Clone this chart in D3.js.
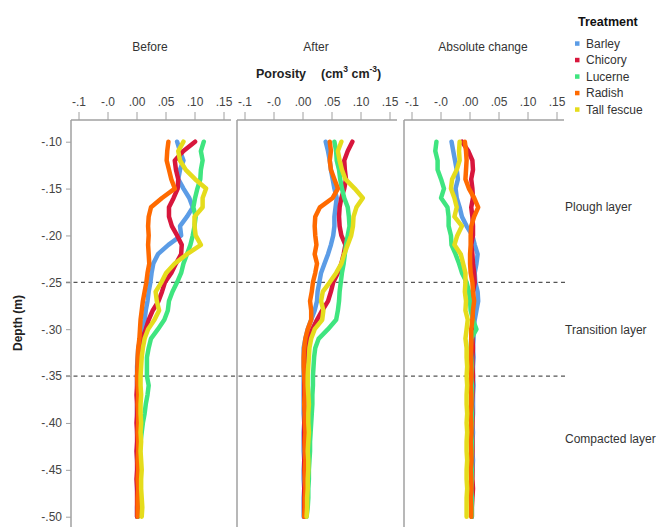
<!DOCTYPE html>
<html>
<head>
<meta charset="utf-8">
<script src="https://cdn.jsdelivr.net/npm/d3@7"></script>
<style>
  body { margin: 0; background: #fff; }
  text { font-family: "Liberation Sans", Arial, sans-serif; }
</style>
</head>
<body>
<div id="chart"></div>
<script>
// chart size
const width = 657
const height = 527

// depth steps, -0.10 to -0.50 every 0.01 m
const depths = d3.range(0, 41).map(k => -0.10 - k * 0.01)

const treatments = ["Barley", "Chicory", "Lucerne", "Radish", "Tall fescue"]
const colors = ["#5b9ce6", "#d8163c", "#3fe57f", "#ff6a00", "#e5dc1c"]
const panels = ["Before", "After", "Absolute change"]
const xTicks = [-0.1, -0.05, 0, 0.05, 0.1, 0.15]
const xTickLabels = ["-.1", "-.0", ".00", ".05", ".10", ".15"]
const yTicks = [-0.10, -0.15, -0.20, -0.25, -0.30, -0.35, -0.40, -0.45, -0.50]
const yTickLabels = ["-.10", "-.15", "-.20", "-.25", "-.30", "-.35", "-.40", "-.45", "-.50"]
const layerBounds = [-0.25, -0.35]
const layerNames = ["Plough layer", "Transition layer", "Compacted layer"]
const layerDepths = [-0.17, -0.301, -0.417]

// porosity before
const beforeBarley = [0.070, 0.075, 0.081, 0.075, 0.072, 0.081, 0.091, 0.097, 0.087, 0.075, 0.077, 0.055, 0.037, 0.029, 0.026, 0.024, 0.021, 0.019, 0.016, 0.014, 0.010, 0.007, 0.003, 0.002, 0.001, 0.001, 0.001, 0.002, 0.001, 0.001, 0.002, 0.001, 0.002, 0.001, 0.001, 0.002, 0.001, 0.001, 0.002, 0.001, 0.001]
const beforeChicory = [0.101, 0.081, 0.066, 0.068, 0.072, 0.071, 0.064, 0.056, 0.056, 0.061, 0.070, 0.078, 0.077, 0.068, 0.060, 0.049, 0.044, 0.038, 0.028, 0.021, 0.016, 0.010, 0.006, 0.003, 0.002, 0.001, 0.001, 0.000, 0.001, 0.001, 0.000, 0.001, 0.001, 0.000, 0.001, 0.001, 0.000, 0.001, 0.001, 0.001, 0.001]
const beforeLucerne = [0.116, 0.111, 0.114, 0.111, 0.110, 0.105, 0.101, 0.098, 0.102, 0.100, 0.097, 0.093, 0.087, 0.081, 0.077, 0.070, 0.062, 0.056, 0.054, 0.048, 0.037, 0.025, 0.021, 0.018, 0.018, 0.018, 0.021, 0.019, 0.016, 0.014, 0.011, 0.009, 0.007, 0.006, 0.006, 0.005, 0.005, 0.004, 0.004, 0.004, 0.003]
const beforeRadish = [0.055, 0.053, 0.052, 0.056, 0.060, 0.066, 0.044, 0.025, 0.021, 0.020, 0.021, 0.020, 0.021, 0.022, 0.019, 0.017, 0.014, 0.011, 0.009, 0.007, 0.006, 0.005, 0.003, 0.002, 0.002, 0.001, 0.002, 0.003, 0.002, 0.003, 0.003, 0.002, 0.003, 0.003, 0.002, 0.003, 0.002, 0.003, 0.002, 0.002, 0.002]
const beforeFescue = [0.081, 0.072, 0.075, 0.085, 0.101, 0.120, 0.114, 0.114, 0.100, 0.100, 0.102, 0.111, 0.087, 0.066, 0.051, 0.043, 0.033, 0.035, 0.039, 0.031, 0.020, 0.014, 0.011, 0.009, 0.008, 0.007, 0.007, 0.008, 0.007, 0.007, 0.008, 0.007, 0.008, 0.007, 0.008, 0.009, 0.008, 0.008, 0.009, 0.010, 0.009]

// porosity after
const afterBarley = [0.040, 0.044, 0.047, 0.049, 0.052, 0.055, 0.059, 0.057, 0.055, 0.055, 0.053, 0.049, 0.044, 0.038, 0.032, 0.029, 0.026, 0.025, 0.021, 0.015, 0.009, 0.005, 0.002, 0.002, 0.002, 0.002, 0.002, 0.002, 0.002, 0.002, 0.003, 0.002, 0.002, 0.002, 0.003, 0.002, 0.002, 0.003, 0.002, 0.002, 0.002]
const afterChicory = [0.086, 0.078, 0.072, 0.073, 0.075, 0.072, 0.067, 0.064, 0.063, 0.064, 0.067, 0.074, 0.071, 0.067, 0.061, 0.053, 0.049, 0.044, 0.034, 0.025, 0.017, 0.011, 0.006, 0.005, 0.003, 0.003, 0.003, 0.003, 0.003, 0.004, 0.003, 0.003, 0.003, 0.004, 0.003, 0.003, 0.004, 0.003, 0.003, 0.003, 0.003]
const afterLucerne = [0.055, 0.058, 0.059, 0.063, 0.065, 0.068, 0.072, 0.078, 0.080, 0.081, 0.078, 0.075, 0.073, 0.071, 0.068, 0.066, 0.064, 0.063, 0.061, 0.058, 0.044, 0.028, 0.022, 0.020, 0.019, 0.018, 0.018, 0.017, 0.017, 0.016, 0.015, 0.014, 0.013, 0.013, 0.012, 0.011, 0.011, 0.010, 0.010, 0.009, 0.007]
const afterRadish = [0.047, 0.049, 0.047, 0.049, 0.055, 0.061, 0.052, 0.030, 0.022, 0.021, 0.022, 0.024, 0.021, 0.025, 0.022, 0.018, 0.016, 0.013, 0.015, 0.015, 0.009, 0.005, 0.003, 0.002, 0.002, 0.003, 0.004, 0.004, 0.003, 0.004, 0.004, 0.005, 0.004, 0.004, 0.005, 0.004, 0.004, 0.005, 0.004, 0.004, 0.003]
const afterFescue = [0.067, 0.061, 0.064, 0.068, 0.074, 0.090, 0.104, 0.093, 0.088, 0.087, 0.084, 0.078, 0.072, 0.067, 0.058, 0.047, 0.035, 0.032, 0.036, 0.034, 0.021, 0.015, 0.012, 0.011, 0.010, 0.009, 0.009, 0.010, 0.011, 0.010, 0.010, 0.011, 0.010, 0.009, 0.010, 0.010, 0.009, 0.009, 0.008, 0.008, 0.007]

// absolute change
const changeBarley = [-0.031, -0.028, -0.025, -0.022, -0.020, -0.024, -0.022, -0.017, -0.013, -0.005, 0.005, 0.009, 0.014, 0.012, 0.009, 0.010, 0.014, 0.015, 0.012, 0.009, 0.007, 0.007, 0.006, 0.007, 0.006, 0.006, 0.007, 0.006, 0.006, 0.006, 0.005, 0.006, 0.005, 0.005, 0.006, 0.005, 0.004, 0.005, 0.004, 0.004, 0.004]
const changeChicory = [-0.013, -0.002, 0.005, 0.006, 0.003, 0.005, 0.006, 0.003, 0.005, 0.006, 0.006, 0.003, 0.005, 0.006, 0.008, 0.009, 0.006, 0.006, 0.005, 0.006, 0.006, 0.005, 0.006, 0.005, 0.005, 0.006, 0.005, 0.005, 0.004, 0.005, 0.005, 0.004, 0.005, 0.005, 0.004, 0.005, 0.005, 0.006, 0.005, 0.004, 0.004]
const changeLucerne = [-0.057, -0.059, -0.055, -0.055, -0.049, -0.044, -0.049, -0.038, -0.036, -0.036, -0.032, -0.031, -0.024, -0.018, -0.013, -0.005, -0.001, 0.001, 0.002, 0.006, 0.012, 0.003, 0.002, 0.003, 0.004, 0.003, 0.004, 0.004, 0.003, 0.004, 0.004, 0.003, 0.004, 0.004, 0.003, 0.004, 0.004, 0.003, 0.004, 0.004, 0.004]
const changeRadish = [-0.008, -0.006, -0.005, -0.006, -0.007, -0.001, 0.008, 0.015, 0.008, 0.003, 0.002, 0.002, 0.001, 0.001, 0.002, 0.005, 0.006, 0.008, 0.006, 0.005, 0.003, 0.003, 0.003, 0.002, 0.003, 0.003, 0.002, 0.003, 0.003, 0.002, 0.003, 0.003, 0.002, 0.003, 0.003, 0.002, 0.003, 0.003, 0.002, 0.003, 0.003]
const changeFescue = [-0.017, -0.018, -0.017, -0.022, -0.030, -0.032, -0.026, -0.022, -0.026, -0.013, -0.021, -0.026, -0.015, -0.011, -0.007, -0.007, -0.008, -0.006, -0.007, -0.003, -0.005, -0.007, -0.005, -0.005, -0.004, -0.005, -0.004, -0.005, -0.005, -0.004, -0.005, -0.004, -0.005, -0.005, -0.004, -0.005, -0.005, -0.004, -0.005, -0.005, -0.005]

const panelData = [
    [beforeBarley, beforeChicory, beforeLucerne, beforeRadish, beforeFescue],
    [afterBarley, afterChicory, afterLucerne, afterRadish, afterFescue],
    [changeBarley, changeChicory, changeLucerne, changeRadish, changeFescue]
]

const svg = d3.select("#chart")
    .append("svg")
    .attr("width", width)
    .attr("height", height)

const axisColor = "#a0a0a0"
const textColor = "#444"
const panelLeft = [71, 237, 404]
const panelW = 160
const plotTop = 120

const y = d3.scaleLinear().domain([-0.10, -0.50]).range([141.7, 516.7])

// dashed layer boundaries (drawn first so lines sit on top)
svg.append("g")
    .selectAll("line")
    .data(layerBounds)
    .join("line")
    .attr("x1", 66).attr("x2", 566)
    .attr("y1", d => y(d)).attr("y2", d => y(d))
    .attr("stroke", "#555")
    .attr("stroke-width", 1.2)
    .attr("stroke-dasharray", "4,3.5")

panels.forEach(function (name, p) {
    const left = panelLeft[p]
    const x = d3.scaleLinear().domain([-0.1, 0.15]).range([left + 7.5, left + 152.5])

    // left border of the panel
    svg.append("line")
        .attr("x1", left).attr("x2", left)
        .attr("y1", plotTop).attr("y2", height)
        .attr("stroke", axisColor).attr("stroke-width", 1.5)

    // top axis
    const ax = svg.append("g")
        .attr("transform", "translate(0," + plotTop + ")")
        .call(d3.axisTop(x).tickValues(xTicks)
            .tickFormat((d, i) => xTickLabels[i])
            .tickSizeInner(8).tickSizeOuter(0).tickPadding(6))
    ax.select(".domain").attr("stroke", axisColor).attr("stroke-width", 1.5)
        .attr("d", "M" + left + ",0H" + (left + panelW))
    ax.selectAll(".tick line").attr("stroke", axisColor)
    ax.selectAll(".tick text").attr("fill", textColor).attr("font-size", 12)
        .attr("font-family", "Liberation Sans, Arial, sans-serif")

    // panel title
    svg.append("text")
        .attr("x", left + panelW / 2 - 1)
        .attr("y", 51)
        .attr("text-anchor", "middle")
        .attr("font-size", 12)
        .attr("fill", "#333")
        .text(name)

    // profiles
    const line = d3.line()
        .x(d => x(d[1]))
        .y(d => y(d[0]))
    panelData[p].forEach(function (vals, i) {
        svg.append("path")
            .datum(depths.map((dp, k) => [dp, vals[k]]))
            .attr("d", line)
            .attr("fill", "none")
            .attr("stroke", colors[i])
            .attr("stroke-width", 4.5)
            .attr("stroke-linejoin", "round")
            .attr("stroke-linecap", "round")
    })
})

// y axis
const ay = svg.append("g")
    .attr("transform", "translate(" + panelLeft[0] + ",0)")
    .call(d3.axisLeft(y).tickValues(yTicks)
        .tickFormat((d, i) => yTickLabels[i])
        .tickSizeInner(5).tickSizeOuter(0).tickPadding(4))
ay.select(".domain").remove()
ay.selectAll(".tick line").attr("stroke", axisColor)
ay.selectAll(".tick text").attr("fill", textColor).attr("font-size", 12)
    .attr("font-family", "Liberation Sans, Arial, sans-serif")

svg.append("text")
    .attr("transform", "translate(22,323) rotate(-90)")
    .attr("text-anchor", "middle")
    .attr("font-size", 12)
    .attr("font-weight", "bold")
    .attr("fill", "#222")
    .text("Depth (m)")

// x axis title
svg.append("text")
    .attr("x", 256).attr("y", 78)
    .attr("font-size", 12.5).attr("font-weight", "bold").attr("fill", "#222")
    .text("Porosity")
const unit = svg.append("text")
    .attr("x", 321).attr("y", 78)
    .attr("font-size", 12.5).attr("font-weight", "bold").attr("fill", "#222")
unit.append("tspan").text("(cm")
unit.append("tspan").attr("dy", -6).attr("font-size", 8.5).text("3")
unit.append("tspan").attr("dy", 6).text(" cm")
unit.append("tspan").attr("dy", -6).attr("font-size", 8.5).text("-3")
unit.append("tspan").attr("dy", 6).text(")")

// layer labels
svg.append("g")
    .selectAll("text")
    .data(layerNames)
    .join("text")
    .attr("x", 565)
    .attr("y", (d, i) => y(layerDepths[i]) + 4)
    .attr("font-size", 12)
    .attr("fill", "#333")
    .text(d => d)

// legend
svg.append("text")
    .attr("x", 578).attr("y", 26)
    .attr("font-size", 12.5).attr("font-weight", "bold").attr("fill", "#111")
    .text("Treatment")
const leg = svg.append("g")
    .selectAll("g")
    .data(treatments)
    .join("g")
    .attr("transform", (d, i) => "translate(577," + (43.3 + i * 16.5) + ")")
leg.append("rect")
    .attr("x", -2).attr("y", -2).attr("width", 4.5).attr("height", 4.5)
    .attr("fill", (d, i) => colors[i])
leg.append("text")
    .attr("x", 9).attr("y", 4.5)
    .attr("font-size", 12).attr("fill", "#333")
    .text(d => d)
</script>
</body>
</html>
